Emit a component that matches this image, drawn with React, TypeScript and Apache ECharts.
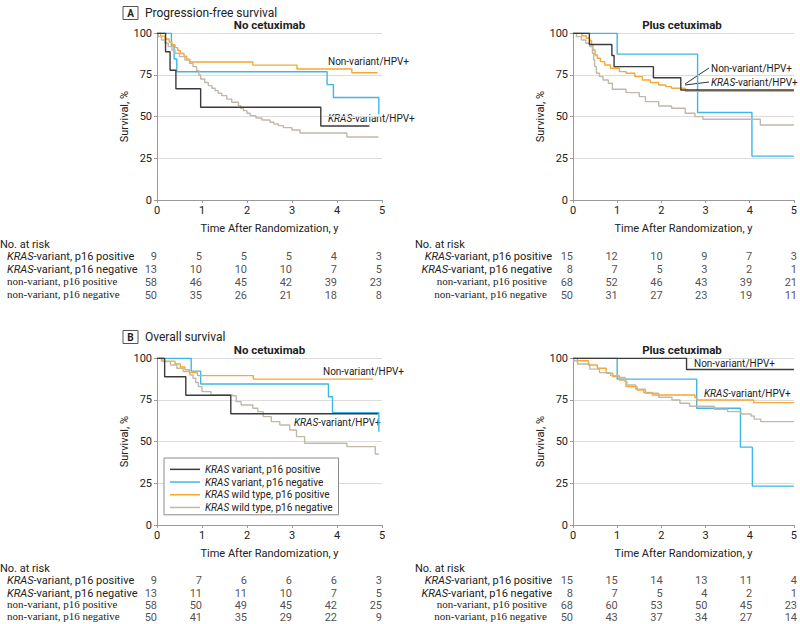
import React, { useEffect, useRef } from "react";
import * as echarts from "echarts";

const FONT = 'Roboto, "Noto Sans", sans-serif';
const SERIF = '"Liberation Serif", "DejaVu Serif", serif';
const FS = 11;
const FA = 10; // annotation / legend size

const seriesNames = [
  "KRAS variant, p16 positive",
  "KRAS variant, p16 negative",
  "KRAS wild type, p16 positive",
  "KRAS wild type, p16 negative",
];
const colors = ["#3b3b3b", "#3fb6e8", "#f7a733", "#c1b8aa"];

const yearTicks = [0, 1, 2, 3, 4, 5];
const rowLabels = [
  "KRAS-variant, p16 positive",
  "KRAS-variant, p16 negative",
  "non-variant, p16 positive",
  "non-variant, p16 negative",
];

// A: Progression-free survival, no cetuximab
const pfsNoBlack = [[0, 100], [0.19, 88.9], [0.29, 77.8], [0.42, 66.7], [0.97, 55.6], [3.64, 44.4], [4.72, 44.4]];
const pfsNoBlue = [[0, 100], [0.32, 92.3], [0.38, 84.6], [0.44, 76.9], [3.78, 69.2], [3.92, 61.5], [4.93, 51.3]];
const pfsNoOrange = [[0, 100], [0.08, 98.3], [0.18, 96.6], [0.27, 94.8], [0.33, 93.1], [0.4, 91.4], [0.46, 89.7], [0.52, 87.9], [0.6, 86.2], [0.66, 84.5], [0.73, 82.8], [2.13, 80.9], [3.11, 78.6], [4.33, 76.3], [4.9, 76.3]];
const pfsNoGray = [[0, 100], [0.03, 98], [0.1, 96], [0.18, 94], [0.25, 92], [0.33, 90], [0.4, 88], [0.5, 86], [0.62, 84], [0.72, 82], [0.8, 80], [0.88, 77.6], [0.93, 75], [0.97, 72.6], [1.06, 70.5], [1.14, 68.6], [1.22, 67], [1.29, 65.6], [1.36, 64], [1.44, 62.6], [1.55, 60.5], [1.66, 58.6], [1.81, 56.6], [1.86, 55], [1.92, 53.6], [2.0, 52], [2.07, 50.6], [2.2, 49.2], [2.33, 48], [2.51, 46.6], [2.6, 45.6], [2.7, 44.6], [2.81, 43.4], [3.0, 42], [3.18, 40.2], [4.22, 37.8], [4.92, 37.8]];

// A: Progression-free survival, plus cetuximab
const pfsPlusBlack = [[0, 100], [0.37, 93.3], [0.88, 86.7], [0.93, 80], [1.82, 73.3], [2.44, 66], [5, 66]];
const pfsPlusBlue = [[0, 100], [1.0, 87.5], [2.82, 52.5], [4.05, 26.3], [5, 26.3]];
const pfsPlusOrange = [[0, 100], [0.2, 98.5], [0.3, 97], [0.38, 95.5], [0.42, 93], [0.45, 90], [0.5, 87], [0.55, 85], [0.62, 83], [0.72, 81], [0.85, 79], [1.05, 77], [1.2, 76], [1.4, 74], [1.57, 72], [1.75, 70.5], [1.94, 69], [2.1, 68], [2.23, 67], [2.54, 65.2], [5, 65.2]];
const pfsPlusGray = [[0, 100], [0.08, 98], [0.19, 96], [0.29, 94], [0.38, 92], [0.44, 88], [0.47, 84], [0.49, 80], [0.53, 76], [0.6, 74], [0.68, 72], [0.8, 70], [0.89, 66.4], [1.2, 64.4], [1.5, 62], [1.64, 59], [1.94, 56.4], [2.23, 55], [2.54, 52], [2.76, 50], [2.94, 48.4], [4.24, 45], [5, 45]];

// B: Overall survival, no cetuximab
const osNoBlack = [[0, 100], [0.17, 88.9], [0.64, 77.8], [1.64, 66.7], [4.91, 66.7]];
const osNoBlue = [[0, 100], [0.76, 92.3], [0.97, 84.6], [3.81, 76.9], [3.9, 67.3], [4.93, 56]];
const osNoOrange = [[0, 100], [0.1, 98.3], [0.4, 96.6], [0.52, 94.8], [0.62, 93.1], [0.72, 91.4], [0.9, 89.6], [2.14, 87.5], [4.8, 87.5]];
const osNoGray = [[0, 100], [0.13, 98], [0.3, 96], [0.44, 94], [0.58, 92], [0.73, 90], [0.8, 88], [0.86, 85.5], [0.92, 83], [1.0, 80], [1.2, 78], [1.68, 77.5], [1.76, 74], [1.87, 72], [2.13, 70], [2.24, 68], [2.36, 65], [2.54, 62], [2.73, 60], [2.95, 57], [3.1, 53], [3.28, 49], [4.22, 47], [4.85, 42.6], [4.93, 42.6]];

// B: Overall survival, plus cetuximab
const osPlusBlack = [[0, 100], [2.57, 93.3], [5, 93.3]];
const osPlusBlue = [[0, 100], [1.0, 87.5], [2.8, 70], [3.79, 46.7], [4.06, 23.3], [5, 23.3]];
const osPlusOrange = [[0, 100], [0.1, 98.5], [0.35, 96], [0.55, 94], [0.75, 91], [0.9, 89], [1.05, 87], [1.2, 83], [1.45, 81], [1.6, 79.5], [1.8, 78], [2.76, 76.5], [2.8, 75], [4.09, 73.4], [5, 73.4]];
const osPlusGray = [[0, 100], [0.02, 98.5], [0.1, 96.6], [0.38, 93.5], [0.6, 91.4], [0.85, 89.6], [1.05, 88.5], [1.18, 86], [1.22, 84], [1.42, 81.4], [1.64, 79], [1.94, 76.6], [2.24, 75], [2.42, 73], [2.64, 71.2], [3.2, 69.4], [3.5, 68], [3.8, 66.6], [4.03, 65.4], [4.1, 63.5], [4.25, 62], [5, 62]];

// Numbers at risk
const riskPfsNo = [[9, 5, 5, 5, 4, 3], [13, 10, 10, 10, 7, 5], [58, 46, 45, 42, 39, 23], [50, 35, 26, 21, 18, 8]];
const riskPfsPlus = [[15, 12, 10, 9, 7, 3], [8, 7, 5, 3, 2, 1], [68, 52, 46, 43, 39, 21], [50, 31, 27, 23, 19, 11]];
const riskOsNo = [[9, 7, 6, 6, 6, 3], [13, 11, 11, 10, 7, 5], [58, 50, 49, 45, 42, 25], [50, 41, 35, 29, 22, 9]];
const riskOsPlus = [[15, 15, 14, 13, 11, 4], [8, 7, 5, 4, 2, 1], [68, 60, 53, 50, 45, 23], [50, 43, 37, 34, 27, 14]];

const panels = [
  { curves: [pfsNoBlack, pfsNoBlue, pfsNoOrange, pfsNoGray], risk: riskPfsNo },
  { curves: [pfsPlusBlack, pfsPlusBlue, pfsPlusOrange, pfsPlusGray], risk: riskPfsPlus },
  { curves: [osNoBlack, osNoBlue, osNoOrange, osNoGray], risk: riskOsNo },
  { curves: [osPlusBlack, osPlusBlue, osPlusOrange, osPlusGray], risk: riskOsPlus },
];

const TXT = "#222";

function txt(x: number, y: number, text: string, extra: any = {}) {
  const fs = extra.fontSize || FS;
  return {
    type: "text",
    x,
    y,
    silent: true,
    style: {
      text,
      fontFamily: FONT,
      fontSize: fs,
      fill: TXT,
      align: "left",
      verticalAlign: "middle",
      rich: { i: { fontStyle: "italic", fontFamily: FONT, fontSize: fs, fill: TXT } },
      ...extra,
    },
  };
}

function buildOption() {
  const plotGrids = [
    { left: 157, top: 33.3, width: 225, height: 166.7 },
    { left: 573, top: 33.3, width: 224, height: 166.7 },
    { left: 157, top: 358.3, width: 225, height: 166.7 },
    { left: 573, top: 358.3, width: 224, height: 166.7 },
  ];
  const tableGrids = [
    { left: 157, top: 250.5, width: 225, height: 51 },
    { left: 573, top: 250.5, width: 224, height: 51 },
    { left: 157, top: 574.5, width: 225, height: 51 },
    { left: 573, top: 574.5, width: 224, height: 51 },
  ];
  const grid = [...plotGrids, ...tableGrids];

  const xAxis: any[] = [];
  const yAxis: any[] = [];
  plotGrids.forEach((_, i) => {
    xAxis.push({
      type: "value",
      gridIndex: i,
      min: 0,
      max: 5,
      interval: 1,
      name: "Time After Randomization, y",
      nameLocation: "middle",
      nameGap: 23,
      nameTextStyle: { fontFamily: FONT, fontSize: FS, color: TXT },
      axisLine: { show: true, lineStyle: { color: "#9a9a9a", width: 1 } },
      axisTick: { show: true, length: 3, lineStyle: { color: "#9a9a9a" } },
      axisLabel: { margin: 5, fontFamily: FONT, fontSize: FS, color: TXT },
      splitLine: { show: false },
    });
    yAxis.push({
      type: "value",
      gridIndex: i,
      min: 0,
      max: 100,
      interval: 25,
      name: "Survival, %",
      nameLocation: "middle",
      nameGap: 22,
      nameRotate: 90,
      nameTextStyle: { fontFamily: FONT, fontSize: FS, color: TXT },
      axisLine: { show: true, lineStyle: { color: "#9a9a9a", width: 1 } },
      axisTick: { show: true, length: 3, lineStyle: { color: "#9a9a9a" } },
      axisLabel: { margin: 5, fontFamily: FONT, fontSize: FS, color: TXT },
      splitLine: { show: true, lineStyle: { color: "#dcdcdc", width: 1 } },
    });
  });
  tableGrids.forEach((_, k) => {
    const gi = 4 + k;
    const isLeft = k % 2 === 0;
    xAxis.push({ type: "value", gridIndex: gi, min: 0, max: 5, interval: 1, show: false });
    yAxis.push({
      type: "category",
      gridIndex: gi,
      inverse: true,
      data: rowLabels,
      axisLine: { show: false },
      axisTick: { show: false },
      splitLine: { show: false },
      axisLabel: {
        show: true,
        interval: 0,
        hideOverlap: false,
        align: isLeft ? "left" : "right",
        margin: isLeft ? 150 : 21,
        fontFamily: FONT,
        fontSize: FS,
        color: TXT,
        formatter: (v: string) =>
          v.startsWith("KRAS") ? "{i|KRAS}{n|" + v.slice(4) + "}" : "{s|" + v + "}",
        rich: {
          i: { fontStyle: "italic", fontFamily: FONT, fontSize: FS, color: TXT },
          n: { fontFamily: FONT, fontSize: FS, color: TXT },
          s: {
            fontFamily: SERIF,
            fontSize: 11,
            color: TXT,
            padding: isLeft ? [0, 0, 3, 0] : [0, 5, 3, 0],
          },
        },
      },
    });
  });

  const series: any[] = [];
  panels.forEach((p, pi) => {
    p.curves.forEach((data, ci) => {
      series.push({
        type: "line",
        name: seriesNames[ci],
        xAxisIndex: pi,
        yAxisIndex: pi,
        step: "end",
        symbol: "none",
        data,
        color: colors[ci],
        lineStyle: { color: colors[ci], width: 1.4 },
        z: ci === 0 ? 5 : 3,
      });
    });
    const pts: any[] = [];
    p.risk.forEach((row, r) =>
      row.forEach((v, c) =>
        pts.push({
          value: [yearTicks[c], r, v],
          label: { offset: [c === yearTicks.length - 1 ? 2 : 5, 0] },
        })
      )
    );
    series.push({
      type: "scatter",
      name: "risk" + pi,
      xAxisIndex: 4 + pi,
      yAxisIndex: 4 + pi,
      symbolSize: 1,
      itemStyle: { color: "rgba(0,0,0,0)" },
      data: pts,
      label: {
        show: true,
        position: "inside",
        align: "right",
        formatter: (q: any) => String(q.value[2]),
        fontFamily: FONT,
        fontSize: FS,
        color: TXT,
      },
      labelLayout: { hideOverlap: false },
    });
  });

  const graphic: any[] = [
    { type: "rect", shape: { x: 123, y: 6.5, width: 15, height: 13 }, style: { fill: "#fff", stroke: "#555", lineWidth: 1 } },
    txt(130.5, 13, "A", { fontWeight: "bold", fontSize: 10, align: "center" }),
    txt(145, 12.5, "Progression-free survival", { fontSize: 12 }),
    txt(269.5, 25, "No cetuximab", { fontWeight: "bold", align: "center", fontSize: 11.5 }),
    txt(682, 25, "Plus cetuximab", { fontWeight: "bold", align: "center", fontSize: 11.5 }),
    txt(0, 244, "No. at risk"),
    txt(415, 244, "No. at risk"),
    { type: "rect", shape: { x: 123, y: 330.5, width: 15, height: 13 }, style: { fill: "#fff", stroke: "#555", lineWidth: 1 } },
    txt(130.5, 337, "B", { fontWeight: "bold", fontSize: 10, align: "center" }),
    txt(145, 336.5, "Overall survival", { fontSize: 12 }),
    txt(269.5, 349.5, "No cetuximab", { fontWeight: "bold", align: "center", fontSize: 11.5 }),
    txt(682, 349.5, "Plus cetuximab", { fontWeight: "bold", align: "center", fontSize: 11.5 }),
    txt(0, 568, "No. at risk"),
    txt(415, 568, "No. at risk"),
    // annotations
    txt(328, 61, "Non-variant/HPV+", { fontSize: FA }),
    txt(328, 118, "{i|KRAS}-variant/HPV+", { fontSize: FA }),
    { type: "line", shape: { x1: 709, y1: 68, x2: 685, y2: 84 }, style: { stroke: "#333", lineWidth: 1 } },
    { type: "line", shape: { x1: 709, y1: 82, x2: 685, y2: 85 }, style: { stroke: "#333", lineWidth: 1 } },
    txt(711, 68, "Non-variant/HPV+", { fontSize: FA }),
    txt(711, 82, "{i|KRAS}-variant/HPV+", { fontSize: FA }),
    txt(323, 371, "Non-variant/HPV+", { fontSize: FA }),
    txt(294, 422, "{i|KRAS}-variant/HPV+", { fontSize: FA }),
    txt(694, 363, "Non-variant/HPV+", { fontSize: FA }),
    txt(704, 393, "{i|KRAS}-variant/HPV+", { fontSize: FA }),
  ];

  return {
    animation: false,
    textStyle: { fontFamily: FONT },
    grid,
    xAxis,
    yAxis,
    series,
    graphic,
    legend: {
      data: seriesNames,
      orient: "vertical",
      left: 164,
      top: 458,
      icon: "rect",
      itemWidth: 30,
      itemHeight: 1.5,
      itemGap: 0,
      padding: [5, 6, 1, 6],
      borderColor: "#8a8a8a",
      borderWidth: 1,
      backgroundColor: "#fff",
      selectedMode: false,
      textStyle: {
        fontFamily: FONT,
        fontSize: FA,
        color: TXT,
        lineHeight: 12.7,
        rich: {
          i: { fontStyle: "italic", fontFamily: FONT, fontSize: FA, color: TXT, lineHeight: 12.7 },
          n: { fontFamily: FONT, fontSize: FA, color: TXT, lineHeight: 12.7 },
        },
      },
      formatter: (name: string) => "{i|KRAS}{n|" + name.slice(4) + "}",
    },
  };
}

export default function App() {
  const ref = useRef<HTMLDivElement>(null);
  useEffect(() => {
    if (!ref.current) return;
    const chart = echarts.init(ref.current, undefined, { renderer: "svg" });
    chart.setOption(buildOption() as any);
    return () => chart.dispose();
  }, []);
  return (
    <div
      ref={ref}
      style={{ position: "fixed", left: 0, top: 0, width: 800, height: 624, background: "#fff" }}
    />
  );
}
